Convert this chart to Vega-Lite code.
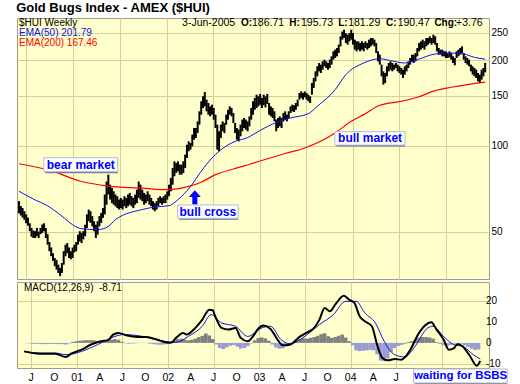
{
  "$schema": "https://vega.github.io/schema/vega-lite/v6.json",
  "background": "white",
  "padding": {"left": 16, "top": 2, "right": 0, "bottom": 0},
  "title": {"text": "Gold Bugs Index - AMEX ($HUI)", "anchor": "start", "font": "Liberation Sans", "fontSize": 13, "fontWeight": "bold", "color": "black", "offset": 2},
  "spacing": 1,
  "config": {
    "view": {"fill": "#ffffcc", "stroke": "#a09c86"},
    "font": "Liberation Sans",
    "axis": {"gridColor": "#d8d09c", "gridOpacity": 1, "gridWidth": 1, "domain": false, "ticks": false, "labelFont": "Liberation Sans", "labelColor": "black", "labelFontSize": 10, "minExtent": 0, "labelOverlap": false}
  },
  "datasets": {
    "price": [
      {"d":"2000-06-02","h":64,"l":58},{"d":"2000-06-09","h":61.5,"l":57},{"d":"2000-06-16","h":60.5,"l":56},{"d":"2000-06-23","h":59,"l":55},{"d":"2000-06-30","h":57.5,"l":53.5},
      {"d":"2000-07-07","h":56,"l":52.5},{"d":"2000-07-14","h":53.5,"l":50.2},{"d":"2000-07-21","h":51.5,"l":48},{"d":"2000-07-28","h":50.5,"l":47.5},
      {"d":"2000-08-04","h":50.2,"l":47.5},{"d":"2000-08-11","h":51.5,"l":48.2},{"d":"2000-08-18","h":50,"l":47.5},{"d":"2000-08-25","h":51.5,"l":49},
      {"d":"2000-09-01","h":53,"l":49.5},{"d":"2000-09-08","h":53.5,"l":50.2},{"d":"2000-09-15","h":51.5,"l":47.5},{"d":"2000-09-22","h":49,"l":45},{"d":"2000-09-29","h":46,"l":42.7},
      {"d":"2000-10-06","h":44,"l":41},{"d":"2000-10-13","h":42,"l":39.5},{"d":"2000-10-20","h":40.4,"l":37.8},{"d":"2000-10-27","h":39.8,"l":36.8},
      {"d":"2000-11-03","h":38.3,"l":35.8},{"d":"2000-11-10","h":37.3,"l":34.9},{"d":"2000-11-17","h":38.8,"l":35.8},{"d":"2000-11-24","h":42.7,"l":38.3},
      {"d":"2000-12-01","h":45,"l":41},{"d":"2000-12-08","h":45.6,"l":42},{"d":"2000-12-15","h":44,"l":40.4},{"d":"2000-12-22","h":42.7,"l":40},{"d":"2000-12-29","h":44,"l":40.4},
      {"d":"2001-01-05","h":45,"l":42.3},{"d":"2001-01-12","h":46,"l":42.7},{"d":"2001-01-19","h":48.8,"l":45},{"d":"2001-01-26","h":50.2,"l":46.2},
      {"d":"2001-02-02","h":49.5,"l":45.6},{"d":"2001-02-09","h":50.2,"l":47},{"d":"2001-02-16","h":52.9,"l":48.2},{"d":"2001-02-23","h":57.5,"l":51.5},
      {"d":"2001-03-02","h":59.8,"l":54.4},{"d":"2001-03-09","h":59,"l":53.7},{"d":"2001-03-16","h":56.7,"l":52.2},{"d":"2001-03-23","h":54.4,"l":50.2},{"d":"2001-03-30","h":52.9,"l":47.5},
      {"d":"2001-04-06","h":54.4,"l":48.8},{"d":"2001-04-13","h":56.7,"l":52.2},{"d":"2001-04-20","h":58.2,"l":53.7},{"d":"2001-04-27","h":60.5,"l":55.9},
      {"d":"2001-05-04","h":67.5,"l":57.5},{"d":"2001-05-11","h":75,"l":62.2},{"d":"2001-05-18","h":79.3,"l":67.5},{"d":"2001-05-25","h":73.1,"l":64.8},
      {"d":"2001-06-01","h":71.2,"l":63},{"d":"2001-06-08","h":69.3,"l":62.2},{"d":"2001-06-15","h":67.5,"l":61.4},{"d":"2001-06-22","h":66.6,"l":60.5},{"d":"2001-06-29","h":64.8,"l":59.8},
      {"d":"2001-07-06","h":65.7,"l":60.5},{"d":"2001-07-13","h":64.8,"l":59.8},{"d":"2001-07-20","h":66.6,"l":61.4},{"d":"2001-07-27","h":65.7,"l":60.5},
      {"d":"2001-08-03","h":67.5,"l":61.4},{"d":"2001-08-10","h":68.4,"l":62.2},{"d":"2001-08-17","h":66.6,"l":61.4},{"d":"2001-08-24","h":65.7,"l":60.5},{"d":"2001-08-31","h":67.5,"l":62.2},
      {"d":"2001-09-07","h":70.2,"l":63},{"d":"2001-09-14","h":75,"l":65.7},{"d":"2001-09-21","h":73.1,"l":64.8},{"d":"2001-09-28","h":70.2,"l":64},
      {"d":"2001-10-05","h":68.4,"l":62.2},{"d":"2001-10-12","h":67.5,"l":63},{"d":"2001-10-19","h":69.3,"l":64},{"d":"2001-10-26","h":67.5,"l":62.2},
      {"d":"2001-11-02","h":65.7,"l":61.4},{"d":"2001-11-09","h":64,"l":59.8},{"d":"2001-11-16","h":63,"l":59},{"d":"2001-11-23","h":64,"l":59.8},{"d":"2001-11-30","h":65.7,"l":61.4},
      {"d":"2001-12-07","h":66.6,"l":63},{"d":"2001-12-14","h":65.7,"l":62.2},{"d":"2001-12-21","h":66.6,"l":63},{"d":"2001-12-28","h":67.5,"l":63},
      {"d":"2002-01-04","h":69.3,"l":64.8},{"d":"2002-01-11","h":73.1,"l":66.6},{"d":"2002-01-18","h":77.2,"l":69.3},{"d":"2002-01-25","h":83.7,"l":73.1},
      {"d":"2002-02-01","h":88.3,"l":78.3},{"d":"2002-02-08","h":87.1,"l":80.4},{"d":"2002-02-15","h":88.3,"l":81.5},{"d":"2002-02-22","h":86,"l":79.3},
      {"d":"2002-03-01","h":86,"l":79.3},{"d":"2002-03-08","h":88.3,"l":80.4},{"d":"2002-03-15","h":93.2,"l":83.7},{"d":"2002-03-22","h":101,"l":90.7},{"d":"2002-03-29","h":103.8,"l":95.8},
      {"d":"2002-04-05","h":102.4,"l":97.1},{"d":"2002-04-12","h":109.6,"l":99.7},{"d":"2002-04-19","h":115.6,"l":105.2},{"d":"2002-04-26","h":115.6,"l":106.7},
      {"d":"2002-05-03","h":122,"l":111},{"d":"2002-05-10","h":132.3,"l":118.8},{"d":"2002-05-17","h":143.5,"l":128.8},{"d":"2002-05-24","h":149.4,"l":135.9},{"d":"2002-05-31","h":154.6,"l":137.7},
      {"d":"2002-06-07","h":145.4,"l":132.3},{"d":"2002-06-14","h":141.5,"l":128.8},{"d":"2002-06-21","h":137.7,"l":127},{"d":"2002-06-28","h":139.6,"l":128.8},
      {"d":"2002-07-05","h":135.9,"l":123.7},{"d":"2002-07-12","h":128.8,"l":115.6},{"d":"2002-07-19","h":118.8,"l":97.1},{"d":"2002-07-26","h":112.6,"l":95.8},
      {"d":"2002-08-02","h":118.8,"l":106.7},{"d":"2002-08-09","h":122,"l":112.6},{"d":"2002-08-16","h":120.4,"l":111},{"d":"2002-08-23","h":128.8,"l":118.8},{"d":"2002-08-30","h":134,"l":123.7},
      {"d":"2002-09-06","h":137.7,"l":128.8},{"d":"2002-09-13","h":135.9,"l":127},{"d":"2002-09-20","h":130.5,"l":120.4},{"d":"2002-09-27","h":120.4,"l":111},
      {"d":"2002-10-04","h":115.6,"l":105.2},{"d":"2002-10-11","h":114.1,"l":103.8},{"d":"2002-10-18","h":118.8,"l":108.1},{"d":"2002-10-25","h":123.7,"l":112.6},
      {"d":"2002-11-01","h":125.4,"l":115.6},{"d":"2002-11-08","h":123.7,"l":114.1},{"d":"2002-11-15","h":122,"l":112.6},{"d":"2002-11-22","h":127,"l":117.2},{"d":"2002-11-29","h":135.9,"l":123.7},
      {"d":"2002-12-06","h":143.5,"l":128.8},{"d":"2002-12-13","h":147.4,"l":134},{"d":"2002-12-20","h":151.4,"l":135.9},{"d":"2002-12-27","h":149.4,"l":137.7},
      {"d":"2003-01-03","h":152.2,"l":139.6},{"d":"2003-01-10","h":147.4,"l":135.9},{"d":"2003-01-17","h":151.4,"l":138.9},{"d":"2003-01-24","h":149.4,"l":136.6},{"d":"2003-01-31","h":152.2,"l":140.4},
      {"d":"2003-02-07","h":141.5,"l":128.8},{"d":"2003-02-14","h":137.7,"l":127},{"d":"2003-02-21","h":135.9,"l":125.4},{"d":"2003-02-28","h":132.3,"l":122},
      {"d":"2003-03-07","h":123.7,"l":112.6},{"d":"2003-03-14","h":125.4,"l":115.6},{"d":"2003-03-21","h":127,"l":117.2},{"d":"2003-03-28","h":125.4,"l":115.6},
      {"d":"2003-04-04","h":130.5,"l":122},{"d":"2003-04-11","h":132.3,"l":123.7},{"d":"2003-04-18","h":128.8,"l":122},{"d":"2003-04-25","h":132.3,"l":125.4},
      {"d":"2003-05-02","h":137.7,"l":130.5},{"d":"2003-05-09","h":139.6,"l":132.3},{"d":"2003-05-16","h":138.9,"l":131.6},{"d":"2003-05-23","h":141.5,"l":134},{"d":"2003-05-30","h":145.4,"l":137.7},
      {"d":"2003-06-06","h":153.4,"l":145.4},{"d":"2003-06-13","h":155.5,"l":147.4},{"d":"2003-06-20","h":153.4,"l":145.4},{"d":"2003-06-27","h":155.5,"l":148.2},
      {"d":"2003-07-04","h":153.4,"l":145.4},{"d":"2003-07-11","h":151.4,"l":143.5},{"d":"2003-07-18","h":149.4,"l":141.5},{"d":"2003-07-25","h":166.4,"l":151.4},
      {"d":"2003-08-01","h":173.2,"l":159.8},{"d":"2003-08-08","h":182.8,"l":168.6},{"d":"2003-08-15","h":190.4,"l":175.6},{"d":"2003-08-22","h":195.6,"l":182.8},{"d":"2003-08-29","h":193,"l":180.4},
      {"d":"2003-09-05","h":198.2,"l":185.3},{"d":"2003-09-12","h":200.9,"l":190.4},{"d":"2003-09-19","h":198.2,"l":187.8},{"d":"2003-09-26","h":195.6,"l":185.3},
      {"d":"2003-10-03","h":200.9,"l":187.8},{"d":"2003-10-10","h":206.4,"l":193},{"d":"2003-10-17","h":214.9,"l":200.9},{"d":"2003-10-24","h":217.8,"l":203.6},{"d":"2003-10-31","h":220.8,"l":206.4},
      {"d":"2003-11-07","h":226.8,"l":212},{"d":"2003-11-14","h":242.6,"l":223.8},{"d":"2003-11-21","h":252.3,"l":236.2},{"d":"2003-11-28","h":256.1,"l":239.4},
      {"d":"2003-12-05","h":249,"l":229.9},{"d":"2003-12-12","h":245.9,"l":226.8},{"d":"2003-12-19","h":249,"l":233},{"d":"2003-12-26","h":256.1,"l":236.2},
      {"d":"2004-01-02","h":249,"l":226.8},{"d":"2004-01-09","h":236.2,"l":217.8},{"d":"2004-01-16","h":233,"l":214.9},{"d":"2004-01-23","h":233,"l":217.8},{"d":"2004-01-30","h":229.9,"l":214.9},
      {"d":"2004-02-06","h":233,"l":217.8},{"d":"2004-02-13","h":229.9,"l":214.9},{"d":"2004-02-20","h":233,"l":220.8},{"d":"2004-02-27","h":229.9,"l":217.8},
      {"d":"2004-03-05","h":236.2,"l":220.8},{"d":"2004-03-12","h":239.4,"l":223.8},{"d":"2004-03-19","h":239.4,"l":226.8},{"d":"2004-03-26","h":236.2,"l":223.8},
      {"d":"2004-04-02","h":229.9,"l":212},{"d":"2004-04-09","h":214.9,"l":198.2},{"d":"2004-04-16","h":209.2,"l":193},{"d":"2004-04-23","h":193,"l":175.6},{"d":"2004-04-30","h":182.8,"l":164.2},
      {"d":"2004-05-07","h":180.4,"l":166.4},{"d":"2004-05-14","h":190.4,"l":175.6},{"d":"2004-05-21","h":195.6,"l":182.8},{"d":"2004-05-28","h":198.2,"l":185.3},
      {"d":"2004-06-04","h":195.6,"l":182.8},{"d":"2004-06-11","h":193,"l":185.3},{"d":"2004-06-18","h":195.6,"l":187.8},{"d":"2004-06-25","h":193,"l":182.8},
      {"d":"2004-07-02","h":190.4,"l":180.4},{"d":"2004-07-09","h":187.8,"l":178},{"d":"2004-07-16","h":185.3,"l":173.2},{"d":"2004-07-23","h":190.4,"l":178},{"d":"2004-07-30","h":193,"l":182.8},
      {"d":"2004-08-06","h":198.2,"l":187.8},{"d":"2004-08-13","h":203.6,"l":193},{"d":"2004-08-20","h":209.2,"l":198.2},{"d":"2004-08-27","h":209.2,"l":195.6},
      {"d":"2004-09-03","h":212,"l":198.2},{"d":"2004-09-10","h":220.8,"l":206.4},{"d":"2004-09-17","h":229.9,"l":214.9},{"d":"2004-09-24","h":233,"l":217.8},
      {"d":"2004-10-01","h":236.2,"l":220.8},{"d":"2004-10-08","h":233,"l":217.8},{"d":"2004-10-15","h":239.4,"l":223.8},{"d":"2004-10-22","h":239.4,"l":226.8},{"d":"2004-10-29","h":242.6,"l":229.9},
      {"d":"2004-11-05","h":239.4,"l":226.8},{"d":"2004-11-12","h":245.9,"l":229.9},{"d":"2004-11-19","h":242.6,"l":226.8},{"d":"2004-11-26","h":229.9,"l":214.9},
      {"d":"2004-12-03","h":220.8,"l":209.2},{"d":"2004-12-10","h":217.8,"l":209.2},{"d":"2004-12-17","h":217.8,"l":206.4},{"d":"2004-12-24","h":214.9,"l":206.4},{"d":"2004-12-31","h":214.9,"l":203.6},
      {"d":"2005-01-07","h":212,"l":203.6},{"d":"2005-01-14","h":214.9,"l":204.7},{"d":"2005-01-21","h":212,"l":200.9},{"d":"2005-01-28","h":206.4,"l":195.6},
      {"d":"2005-02-04","h":203.6,"l":192},{"d":"2005-02-11","h":214.9,"l":203.6},{"d":"2005-02-18","h":217.8,"l":206.4},{"d":"2005-02-25","h":220.8,"l":209.2},
      {"d":"2005-03-04","h":223.8,"l":212},{"d":"2005-03-11","h":212,"l":200.9},{"d":"2005-03-18","h":206.4,"l":195.6},{"d":"2005-03-25","h":203.6,"l":193},
      {"d":"2005-04-01","h":200.9,"l":190.4},{"d":"2005-04-08","h":193,"l":182.8},{"d":"2005-04-15","h":190.4,"l":178},{"d":"2005-04-22","h":187.8,"l":175.6},{"d":"2005-04-29","h":185.3,"l":173.2},
      {"d":"2005-05-06","h":180.4,"l":168.6},{"d":"2005-05-13","h":178,"l":166.4},{"d":"2005-05-20","h":185.3,"l":170.9},{"d":"2005-05-27","h":187.8,"l":175.6},
      {"d":"2005-06-03","h":195.73,"l":181.29}
    ],
    "ema50": [
      {"d":"2000-06-02","v":69.3},{"d":"2000-07-28","v":65.1},{"d":"2000-09-22","v":61.6},{"d":"2000-11-17","v":56.7},{"d":"2000-12-29","v":52.9},
      {"d":"2001-02-02","v":51.2},{"d":"2001-04-06","v":50.8},{"d":"2001-05-18","v":52.2},{"d":"2001-06-15","v":55.1},{"d":"2001-09-28","v":59.8},
      {"d":"2001-11-16","v":61.0},{"d":"2002-01-11","v":61.7},{"d":"2002-02-15","v":64.8},{"d":"2002-04-05","v":72.0},{"d":"2002-05-17","v":81.5},
      {"d":"2002-06-28","v":90.7},{"d":"2002-07-26","v":95.8},{"d":"2002-09-27","v":103.8},{"d":"2002-11-15","v":107},{"d":"2002-12-06","v":109.6},
      {"d":"2003-01-31","v":117},{"d":"2003-03-14","v":121.4},{"d":"2003-05-02","v":125.4},{"d":"2003-07-11","v":129.8},{"d":"2003-08-15","v":137.8},
      {"d":"2003-10-24","v":157.6},{"d":"2003-12-05","v":178},{"d":"2004-02-13","v":195.6},{"d":"2004-04-16","v":202.5},{"d":"2004-05-28","v":199.3},
      {"d":"2004-07-23","v":195.6},{"d":"2004-09-10","v":200.9},{"d":"2004-11-19","v":210.3},{"d":"2005-01-21","v":212},{"d":"2005-03-11","v":210.3},
      {"d":"2005-04-22","v":204.7},{"d":"2005-06-03","v":201.79}
    ],
    "ema200": [
      {"d":"2000-06-02","v":86.6},{"d":"2000-09-29","v":82.2},{"d":"2001-02-02","v":75},{"d":"2001-05-18","v":72.3},{"d":"2001-09-28","v":71.1},
      {"d":"2002-01-04","v":70.2},{"d":"2002-03-29","v":72.1},{"d":"2002-05-17","v":74.6},{"d":"2002-07-12","v":79.3},{"d":"2002-09-20","v":83},
      {"d":"2002-11-29","v":86.6},{"d":"2003-04-11","v":94.1},{"d":"2003-06-27","v":98.4},{"d":"2003-10-24","v":111.1},{"d":"2003-12-26","v":122},
      {"d":"2004-02-13","v":128.8},{"d":"2004-04-16","v":138.9},{"d":"2004-07-09","v":143.5},{"d":"2004-09-10","v":148.2},{"d":"2004-11-19","v":156.4},
      {"d":"2005-01-21","v":160.7},{"d":"2005-03-25","v":164.2},{"d":"2005-06-03","v":167.46}
    ],
    "macd": [
      {"d":"2000-06-02","v":-4.1},{"d":"2000-08-04","v":-5.2},{"d":"2000-10-06","v":-5.2},{"d":"2000-11-17","v":-6.8},{"d":"2000-12-08","v":-5.2},
      {"d":"2001-01-19","v":-3.3},{"d":"2001-02-23","v":-0.9},{"d":"2001-04-06","v":0.8},{"d":"2001-05-04","v":1.2},{"d":"2001-05-25","v":4},
      {"d":"2001-06-15","v":4.8},{"d":"2001-07-20","v":3.5},{"d":"2001-08-31","v":2.8},{"d":"2001-10-05","v":2.8},{"d":"2001-11-16","v":1.6},
      {"d":"2001-12-21","v":0.3},{"d":"2002-01-11","v":0},{"d":"2002-02-01","v":2.4},{"d":"2002-03-01","v":4.8},{"d":"2002-03-15","v":4},
      {"d":"2002-04-19","v":7.2},{"d":"2002-05-17","v":11.2},{"d":"2002-06-14","v":16},{"d":"2002-06-28","v":15.7},{"d":"2002-07-05","v":13.6},
      {"d":"2002-08-02","v":7.2},{"d":"2002-08-30","v":6.4},{"d":"2002-09-27","v":7.2},{"d":"2002-10-18","v":2.4},{"d":"2002-11-15","v":0.8},
      {"d":"2002-12-06","v":3.1},{"d":"2002-12-27","v":6.8},{"d":"2003-01-17","v":8.3},{"d":"2003-02-14","v":6.7},{"d":"2003-03-14","v":1.6},
      {"d":"2003-04-04","v":-1.2},{"d":"2003-05-02","v":-0.9},{"d":"2003-06-13","v":3.1},{"d":"2003-07-11","v":5.1},{"d":"2003-08-01","v":6.4},
      {"d":"2003-08-29","v":11.2},{"d":"2003-09-19","v":16.8},{"d":"2003-10-10","v":15.2},{"d":"2003-10-31","v":18.4},{"d":"2003-12-05","v":22.7},
      {"d":"2003-12-26","v":20.8},{"d":"2004-01-16","v":19.2},{"d":"2004-02-06","v":12.8},{"d":"2004-02-27","v":10.4},{"d":"2004-03-26","v":8},
      {"d":"2004-04-16","v":-0.9},{"d":"2004-05-07","v":-7.3},{"d":"2004-05-28","v":-8.4},{"d":"2004-06-25","v":-7.8},{"d":"2004-07-23","v":-8.1},
      {"d":"2004-08-06","v":-6.8},{"d":"2004-08-27","v":-3.3},{"d":"2004-10-01","v":4.8},{"d":"2004-10-29","v":8.8},{"d":"2004-11-19","v":9.9},
      {"d":"2004-12-10","v":6.4},{"d":"2005-01-07","v":1.6},{"d":"2005-01-28","v":-3.3},{"d":"2005-02-18","v":-2.5},{"d":"2005-03-04","v":-0.5},
      {"d":"2005-03-25","v":-1.7},{"d":"2005-04-22","v":-6.2},{"d":"2005-05-20","v":-11},{"d":"2005-06-03","v":-8.71}
    ],
    "signal": [
      {"d":"2000-06-02","v":-4.1},{"d":"2000-08-04","v":-4.9},{"d":"2000-10-06","v":-4.9},{"d":"2000-11-17","v":-5.7},{"d":"2001-01-19","v":-4.1},
      {"d":"2001-03-23","v":-0.9},{"d":"2001-06-01","v":3.1},{"d":"2001-07-06","v":4},{"d":"2001-09-21","v":3.1},{"d":"2001-12-14","v":0.8},
      {"d":"2002-02-01","v":0.3},{"d":"2002-03-22","v":3.1},{"d":"2002-05-17","v":8},{"d":"2002-06-21","v":13.6},{"d":"2002-08-02","v":9.6},
      {"d":"2002-09-27","v":8},{"d":"2002-11-15","v":3.1},{"d":"2003-01-10","v":7.2},{"d":"2003-02-14","v":8},{"d":"2003-03-28","v":1.6},
      {"d":"2003-05-02","v":-0.4},{"d":"2003-07-11","v":4},{"d":"2003-08-29","v":8.8},{"d":"2003-10-24","v":13.6},{"d":"2003-12-12","v":20},
      {"d":"2004-01-23","v":20},{"d":"2004-02-27","v":14.4},{"d":"2004-04-09","v":9.6},{"d":"2004-05-14","v":0.8},{"d":"2004-06-25","v":-5.7},
      {"d":"2004-08-06","v":-6.8},{"d":"2004-09-10","v":-2.5},{"d":"2004-11-05","v":7.2},{"d":"2004-11-26","v":8},{"d":"2005-01-07","v":3.1},
      {"d":"2005-02-18","v":-0.9},{"d":"2005-03-25","v":-1.7},{"d":"2005-05-06","v":-5.7},{"d":"2005-06-03","v":-7.8}
    ],
    "hist": [
      {"d":"2000-06-02","h":0},{"d":"2000-06-16","h":-0.2},{"d":"2000-06-30","h":-0.3},{"d":"2000-07-14","h":-0.5},{"d":"2000-07-28","h":-0.5},
      {"d":"2000-08-11","h":-0.6},{"d":"2000-08-25","h":-0.6},{"d":"2000-09-08","h":-0.5},{"d":"2000-09-22","h":-0.5},{"d":"2000-10-06","h":-0.5},
      {"d":"2000-10-20","h":-0.6},{"d":"2000-11-03","h":-0.6},{"d":"2000-11-17","h":-0.8},{"d":"2000-12-01","h":-0.3},{"d":"2000-12-15","h":0.5},
      {"d":"2000-12-29","h":0.8},{"d":"2001-01-12","h":1.0},{"d":"2001-01-26","h":1.2},{"d":"2001-02-09","h":1.3},{"d":"2001-02-23","h":1.3},
      {"d":"2001-03-09","h":1.2},{"d":"2001-03-23","h":0.8},{"d":"2001-04-06","h":0.6},{"d":"2001-04-20","h":0.8},{"d":"2001-05-04","h":1.2},
      {"d":"2001-05-18","h":1.5},{"d":"2001-06-01","h":1.8},{"d":"2001-06-15","h":1.5},{"d":"2001-06-29","h":0.5},{"d":"2001-07-13","h":-0.2},
      {"d":"2001-07-27","h":-0.4},{"d":"2001-08-10","h":-0.3},{"d":"2001-08-24","h":-0.2},{"d":"2001-09-07","h":-0.1},{"d":"2001-09-21","h":0.1},
      {"d":"2001-10-05","h":-0.1},{"d":"2001-10-19","h":-0.4},{"d":"2001-11-02","h":-0.6},{"d":"2001-11-16","h":-0.8},{"d":"2001-11-30","h":-0.9},
      {"d":"2001-12-14","h":-0.8},{"d":"2001-12-28","h":-0.5},{"d":"2002-01-11","h":0.3},{"d":"2002-01-25","h":1.0},{"d":"2002-02-08","h":1.8},
      {"d":"2002-02-22","h":2.0},{"d":"2002-03-08","h":1.6},{"d":"2002-03-22","h":1.2},{"d":"2002-04-05","h":1.5},{"d":"2002-04-19","h":2.0},
      {"d":"2002-05-03","h":2.8},{"d":"2002-05-17","h":3.4},{"d":"2002-05-31","h":4.5},{"d":"2002-06-14","h":3.6},{"d":"2002-06-28","h":1.8},
      {"d":"2002-07-12","h":-0.8},{"d":"2002-07-26","h":-2.5},{"d":"2002-08-09","h":-3.0},{"d":"2002-08-23","h":-2.2},{"d":"2002-09-06","h":-1.4},
      {"d":"2002-09-20","h":-1.0},{"d":"2002-10-04","h":-1.8},{"d":"2002-10-18","h":-2.8},{"d":"2002-11-01","h":-2.5},{"d":"2002-11-15","h":-1.6},
      {"d":"2002-11-29","h":-0.3},{"d":"2002-12-13","h":1.2},{"d":"2002-12-27","h":2.3},{"d":"2003-01-10","h":2.6},{"d":"2003-01-24","h":2.2},
      {"d":"2003-02-07","h":1.0},{"d":"2003-02-21","h":-0.8},{"d":"2003-03-07","h":-2.2},{"d":"2003-03-21","h":-2.8},{"d":"2003-04-04","h":-2.6},
      {"d":"2003-04-18","h":-1.6},{"d":"2003-05-02","h":-0.5},{"d":"2003-05-16","h":0.4},{"d":"2003-05-30","h":1.2},{"d":"2003-06-13","h":1.8},
      {"d":"2003-06-27","h":2.2},{"d":"2003-07-11","h":2.0},{"d":"2003-07-25","h":2.4},{"d":"2003-08-08","h":2.8},{"d":"2003-08-22","h":3.4},
      {"d":"2003-09-05","h":4.2},{"d":"2003-09-19","h":4.6},{"d":"2003-10-03","h":3.2},{"d":"2003-10-17","h":2.4},{"d":"2003-10-31","h":2.8},
      {"d":"2003-11-14","h":3.4},{"d":"2003-11-28","h":4.0},{"d":"2003-12-12","h":2.6},{"d":"2003-12-26","h":0.8},{"d":"2004-01-09","h":-1.2},
      {"d":"2004-01-23","h":-3.6},{"d":"2004-02-06","h":-4.0},{"d":"2004-02-20","h":-3.8},{"d":"2004-03-05","h":-3.6},{"d":"2004-03-19","h":-3.4},
      {"d":"2004-04-02","h":-3.6},{"d":"2004-04-16","h":-5.5},{"d":"2004-04-30","h":-8.5},{"d":"2004-05-14","h":-8.8},{"d":"2004-05-28","h":-7.5},
      {"d":"2004-06-11","h":-4.5},{"d":"2004-06-25","h":-2.5},{"d":"2004-07-09","h":-1.5},{"d":"2004-07-23","h":-1.0},{"d":"2004-08-06","h":-0.5},
      {"d":"2004-08-20","h":0.4},{"d":"2004-09-03","h":0.8},{"d":"2004-09-17","h":1.6},{"d":"2004-10-01","h":2.4},{"d":"2004-10-15","h":2.8},
      {"d":"2004-10-29","h":2.8},{"d":"2004-11-12","h":2.6},{"d":"2004-11-26","h":2.0},{"d":"2004-12-10","h":0.4},{"d":"2004-12-24","h":-0.6},
      {"d":"2005-01-07","h":-1.2},{"d":"2005-01-21","h":-1.5},{"d":"2005-02-04","h":-1.0},{"d":"2005-02-18","h":-0.4},{"d":"2005-03-04","h":0.0},
      {"d":"2005-03-18","h":-0.4},{"d":"2005-04-01","h":-1.2},{"d":"2005-04-15","h":-2.0},{"d":"2005-04-29","h":-2.8},{"d":"2005-05-13","h":-3.4},
      {"d":"2005-05-27","h":-3.2}
    ],
    "xlabels": [
      {"d":"2000-07-01","t":"J"},{"d":"2000-10-01","t":"O"},{"d":"2001-01-01","t":"01"},{"d":"2001-04-01","t":"A"},
      {"d":"2001-07-01","t":"J"},{"d":"2001-10-01","t":"O"},{"d":"2002-01-01","t":"02"},{"d":"2002-04-01","t":"A"},
      {"d":"2002-07-01","t":"J"},{"d":"2002-10-01","t":"O"},{"d":"2003-01-01","t":"03"},{"d":"2003-04-01","t":"A"},
      {"d":"2003-07-01","t":"J"},{"d":"2003-10-01","t":"O"},{"d":"2004-01-01","t":"04"},{"d":"2004-04-01","t":"A"},
      {"d":"2004-07-01","t":"J"}
    ],
    "ylabels": [
      {"v":-10,"t":"-10"},{"v":0,"t":"0"},{"v":10,"t":"10"},{"v":20,"t":"20"}
    ]
  },
  "vconcat": [
    {
      "width": 472,
      "height": 261,
      "layer": [
        {
          "data": {"name": "price"},
          "mark": {"type": "rule", "color": "black", "strokeWidth": 2},
          "encoding": {
            "x": {"field": "d", "type": "temporal", "title": null,
              "scale": {"type": "utc", "domain": [{"year": 2000, "month": 5, "date": 25, "utc": true}, {"year": 2005, "month": 6, "date": 18, "utc": true}]},
              "axis": {"labels": false, "grid": true, "title": null,
                "values": [{"year":2000,"month":7,"date":1,"utc":true},{"year":2000,"month":10,"date":1,"utc":true},{"year":2001,"month":1,"date":1,"utc":true},{"year":2001,"month":4,"date":1,"utc":true},{"year":2001,"month":7,"date":1,"utc":true},{"year":2001,"month":10,"date":1,"utc":true},{"year":2002,"month":1,"date":1,"utc":true},{"year":2002,"month":4,"date":1,"utc":true},{"year":2002,"month":7,"date":1,"utc":true},{"year":2002,"month":10,"date":1,"utc":true},{"year":2003,"month":1,"date":1,"utc":true},{"year":2003,"month":4,"date":1,"utc":true},{"year":2003,"month":7,"date":1,"utc":true},{"year":2003,"month":10,"date":1,"utc":true},{"year":2004,"month":1,"date":1,"utc":true},{"year":2004,"month":4,"date":1,"utc":true},{"year":2004,"month":7,"date":1,"utc":true},{"year":2004,"month":10,"date":1,"utc":true},{"year":2005,"month":1,"date":1,"utc":true},{"year":2005,"month":4,"date":1,"utc":true}]}},
            "y": {"field": "l", "type": "quantitative", "title": null,
              "scale": {"type": "log", "domain": [34.1, 281.4], "nice": false, "zero": false},
              "axis": {"orient": "right", "values": [50, 100, 150, 200, 250], "grid": true, "labelPadding": 2, "title": null}},
            "y2": {"field": "h"}
          }
        },
        {
          "data": {"name": "ema200"},
          "mark": {"type": "line", "color": "#ff0000", "strokeWidth": 1.2, "interpolate": "monotone"},
          "encoding": {"x": {"field": "d", "type": "temporal", "title": null}, "y": {"field": "v", "type": "quantitative", "title": null}}
        },
        {
          "data": {"name": "ema50"},
          "mark": {"type": "line", "color": "#1010ee", "strokeWidth": 1, "interpolate": "monotone"},
          "encoding": {"x": {"field": "d", "type": "temporal", "title": null}, "y": {"field": "v", "type": "quantitative", "title": null}}
        },
        {
          "data": {"values": [{"d": "2000-06-02", "v": 270.9, "t": "$HUI Weekly"}]},
          "mark": {"type": "text", "align": "left", "baseline": "middle", "fontSize": 10, "color": "black"},
          "encoding": {"x": {"field": "d", "type": "temporal", "title": null}, "y": {"field": "v", "type": "quantitative", "title": null}, "text": {"field": "t"}}
        },
        {
          "data": {"values": [{"d": "2000-06-02", "v": 248.6, "t": "EMA(50) 201.79"}]},
          "mark": {"type": "text", "align": "left", "baseline": "middle", "fontSize": 10, "color": "#1010ee"},
          "encoding": {"x": {"field": "d", "type": "temporal", "title": null}, "y": {"field": "v", "type": "quantitative", "title": null}, "text": {"field": "t"}}
        },
        {
          "data": {"values": [{"d": "2000-06-02", "v": 229.3, "t": "EMA(200) 167.46"}]},
          "mark": {"type": "text", "align": "left", "baseline": "middle", "fontSize": 10, "color": "#ff0000"},
          "encoding": {"x": {"field": "d", "type": "temporal", "title": null}, "y": {"field": "v", "type": "quantitative", "title": null}, "text": {"field": "t"}}
        },
        {
          "data": {"values": [
            {"d": "2002-03-03", "v": 270.9, "t": "3-Jun-2005"},
            {"d": "2002-12-02", "v": 270.9, "t": "186.71"},
            {"d": "2003-06-12", "v": 270.9, "t": "195.73"},
            {"d": "2003-12-14", "v": 270.9, "t": "181.29"},
            {"d": "2004-06-25", "v": 270.9, "t": "190.47"},
            {"d": "2005-02-09", "v": 270.9, "t": "+3.76"}
          ]},
          "mark": {"type": "text", "align": "left", "baseline": "middle", "fontSize": 10.5, "color": "black"},
          "encoding": {"x": {"field": "d", "type": "temporal", "title": null}, "y": {"field": "v", "type": "quantitative", "title": null}, "text": {"field": "t"}}
        },
        {
          "data": {"values": [
            {"d": "2002-10-20", "v": 270.9, "t": "O:"},
            {"d": "2003-04-27", "v": 270.9, "t": "H:"},
            {"d": "2003-11-05", "v": 270.9, "t": "L:"},
            {"d": "2004-05-10", "v": 270.9, "t": "C:"},
            {"d": "2004-11-16", "v": 270.9, "t": "Chg:"}
          ]},
          "mark": {"type": "text", "align": "left", "baseline": "middle", "fontSize": 10, "fontWeight": "bold", "color": "black"},
          "encoding": {"x": {"field": "d", "type": "temporal", "title": null}, "y": {"field": "v", "type": "quantitative", "title": null}, "text": {"field": "t"}}
        },
        {
          "data": {"values": [
            {"a": "2000-09-07", "b": "2001-06-24", "lo": 81.2, "hi": 90.9},
            {"a": "2002-02-14", "b": "2002-10-09", "lo": 55.7, "hi": 62.05},
            {"a": "2003-10-23", "b": "2004-07-24", "lo": 100.7, "hi": 112.2}
          ]},
          "mark": {"type": "rect", "fill": "#6c7490", "xOffset": 1.5, "yOffset": 1.5},
          "encoding": {"x": {"field": "a", "type": "temporal", "title": null}, "x2": {"field": "b"}, "y": {"field": "lo", "type": "quantitative", "title": null}, "y2": {"field": "hi"}}
        },
        {
          "data": {"values": [
            {"a": "2000-09-07", "b": "2001-06-24", "lo": 81.2, "hi": 90.9},
            {"a": "2002-02-14", "b": "2002-10-09", "lo": 55.7, "hi": 62.05},
            {"a": "2003-10-23", "b": "2004-07-24", "lo": 100.7, "hi": 112.2}
          ]},
          "mark": {"type": "rect", "fill": "white", "stroke": "#b4bcd4", "strokeWidth": 1},
          "encoding": {"x": {"field": "a", "type": "temporal", "title": null}, "x2": {"field": "b"}, "y": {"field": "lo", "type": "quantitative", "title": null}, "y2": {"field": "hi"}}
        },
        {
          "data": {"values": [
            {"d": "2001-01-30", "v": 85.9, "t": "bear market"},
            {"d": "2002-06-12", "v": 58.8, "t": "bull cross"},
            {"d": "2004-03-09", "v": 106.4, "t": "bull market"}
          ]},
          "mark": {"type": "text", "align": "center", "baseline": "middle", "fontSize": 12, "fontWeight": "bold", "color": "#0000ff"},
          "encoding": {"x": {"field": "d", "type": "temporal", "title": null}, "y": {"field": "v", "type": "quantitative", "title": null}, "text": {"field": "t"}}
        },
        {
          "data": {"values": [{"d": "2002-04-22", "v": 66.0}]},
          "mark": {"type": "point", "shape": "M0,-1L0.86,-0.05L0.36,-0.05L0.36,1L-0.36,1L-0.36,-0.05L-0.86,-0.05Z", "size": 196, "filled": true, "color": "#0000ff", "opacity": 1},
          "encoding": {"x": {"field": "d", "type": "temporal", "title": null}, "y": {"field": "v", "type": "quantitative", "title": null}}
        }
      ]
    },
    {
      "width": 472,
      "height": 86,
      "layer": [
        {
          "data": {"name": "hist"},
          "mark": {"type": "bar", "size": 3.6},
          "encoding": {
            "x": {"field": "d", "type": "temporal", "title": null,
              "scale": {"type": "utc", "domain": [{"year": 2000, "month": 5, "date": 25, "utc": true}, {"year": 2005, "month": 6, "date": 18, "utc": true}]},
              "axis": {"grid": true, "labels": false, "title": null,
                "values": [{"year":2000,"month":7,"date":1,"utc":true},{"year":2000,"month":10,"date":1,"utc":true},{"year":2001,"month":1,"date":1,"utc":true},{"year":2001,"month":4,"date":1,"utc":true},{"year":2001,"month":7,"date":1,"utc":true},{"year":2001,"month":10,"date":1,"utc":true},{"year":2002,"month":1,"date":1,"utc":true},{"year":2002,"month":4,"date":1,"utc":true},{"year":2002,"month":7,"date":1,"utc":true},{"year":2002,"month":10,"date":1,"utc":true},{"year":2003,"month":1,"date":1,"utc":true},{"year":2003,"month":4,"date":1,"utc":true},{"year":2003,"month":7,"date":1,"utc":true},{"year":2003,"month":10,"date":1,"utc":true},{"year":2004,"month":1,"date":1,"utc":true},{"year":2004,"month":4,"date":1,"utc":true},{"year":2004,"month":7,"date":1,"utc":true},{"year":2004,"month":10,"date":1,"utc":true},{"year":2005,"month":1,"date":1,"utc":true},{"year":2005,"month":4,"date":1,"utc":true}]}},
            "y": {"field": "h", "type": "quantitative", "title": null,
              "scale": {"domain": [-12.1, 29.3], "nice": false, "zero": false},
              "axis": {"orient": "right", "values": [-10, 0, 10, 20], "grid": true, "labels": false, "title": null}},
            "y2": {"datum": 0},
            "color": {"condition": {"test": "datum.h >= 0", "value": "#808080"}, "value": "#9a9ad6"}
          }
        },
        {
          "data": {"name": "signal"},
          "mark": {"type": "line", "color": "#1010ee", "strokeWidth": 1, "interpolate": "monotone"},
          "encoding": {"x": {"field": "d", "type": "temporal", "title": null}, "y": {"field": "v", "type": "quantitative", "title": null}}
        },
        {
          "data": {"name": "macd"},
          "mark": {"type": "line", "color": "black", "strokeWidth": 2, "interpolate": "monotone"},
          "encoding": {"x": {"field": "d", "type": "temporal", "title": null}, "y": {"field": "v", "type": "quantitative", "title": null}}
        },
        {
          "data": {"values": [{"d": "2000-06-02", "v": 26.2, "t": "MACD(12,26,9)\u00a0\u00a0-8.71"}]},
          "mark": {"type": "text", "align": "left", "baseline": "middle", "fontSize": 10, "color": "black"},
          "encoding": {"x": {"field": "d", "type": "temporal", "title": null}, "y": {"field": "v", "type": "quantitative", "title": null}, "text": {"field": "t"}}
        },
        {
          "data": {"name": "xlabels"},
          "mark": {"type": "text", "align": "center", "baseline": "middle", "fontSize": 10.5, "color": "black"},
          "encoding": {"x": {"field": "d", "type": "temporal", "title": null}, "y": {"datum": -16.9, "type": "quantitative"}, "text": {"field": "t"}}
        },
        {
          "data": {"name": "ylabels"},
          "mark": {"type": "text", "align": "left", "baseline": "middle", "fontSize": 10, "color": "black"},
          "encoding": {"x": {"datum": {"year": 2005, "month": 6, "date": 26, "utc": true}, "type": "temporal"}, "y": {"field": "v", "type": "quantitative", "title": null}, "text": {"field": "t"}}
        },
        {
          "data": {"values": [{"a": "2004-09-09", "b": "2005-09-19", "lo": -19.3, "hi": -12.57}]},
          "mark": {"type": "rect", "fill": "#6c7490", "xOffset": 1.5, "yOffset": 1.5},
          "encoding": {"x": {"field": "a", "type": "temporal", "title": null}, "x2": {"field": "b"}, "y": {"field": "lo", "type": "quantitative", "title": null}, "y2": {"field": "hi"}}
        },
        {
          "data": {"values": [{"a": "2004-09-09", "b": "2005-09-19", "lo": -19.3, "hi": -12.57}]},
          "mark": {"type": "rect", "fill": "white", "stroke": "#b4bcd4", "strokeWidth": 1},
          "encoding": {"x": {"field": "a", "type": "temporal", "title": null}, "x2": {"field": "b"}, "y": {"field": "lo", "type": "quantitative", "title": null}, "y2": {"field": "hi"}}
        },
        {
          "data": {"values": [{"d": "2005-03-16", "v": -15.9, "t": "waiting for BSBS"}]},
          "mark": {"type": "text", "align": "center", "baseline": "middle", "fontSize": 11.5, "fontWeight": "bold", "color": "#0000ff"},
          "encoding": {"x": {"field": "d", "type": "temporal", "title": null}, "y": {"field": "v", "type": "quantitative", "title": null}, "text": {"field": "t"}}
        }
      ]
    }
  ]
}
